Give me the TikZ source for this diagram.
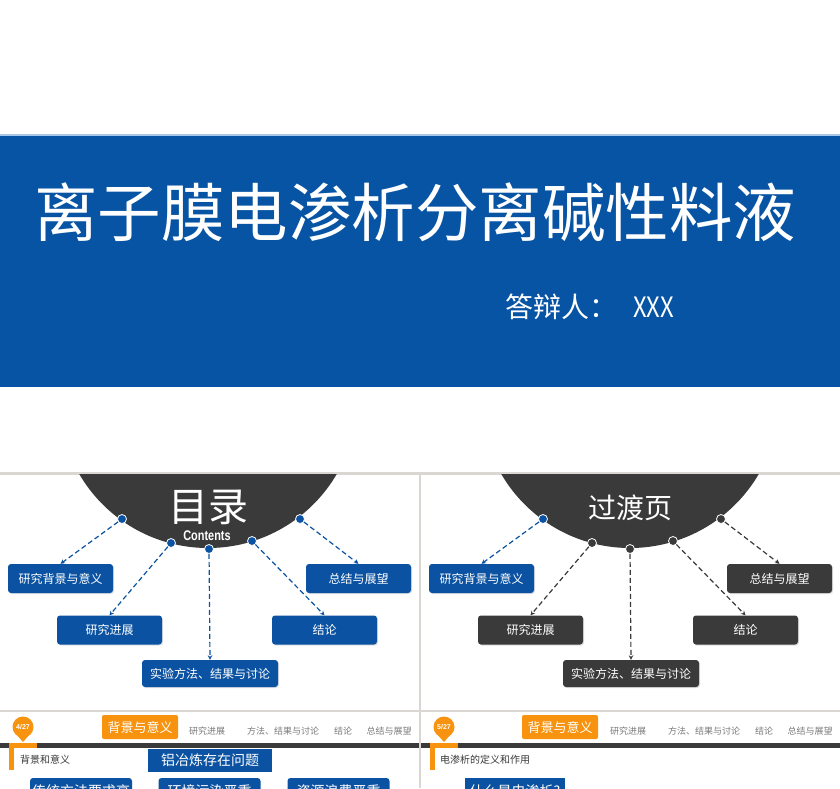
\documentclass[tikz,border=0pt]{standalone}
\usepackage{fontspec}
\setmainfont{Liberation Sans}
\newfontfamily\cjk{Noto Sans CJK SC}
\usetikzlibrary{arrows.meta,shadows}
\definecolor{band}{HTML}{0854A4}
\definecolor{lineblue}{HTML}{A9C8E8}
\definecolor{boxblue}{HTML}{0B53A2}
\definecolor{darkc}{HTML}{3A3A3A}
\definecolor{gridc}{HTML}{DAD7D2}
\definecolor{orangec}{HTML}{F7930F}
\definecolor{navgrey}{HTML}{7A7A7A}
\tikzset{
  fs/.style={font=\cjk\fontsize{#1}{#1}\selectfont},
  itembox/.style={draw=none, fill=#1, rounded corners=3pt, minimum width=105pt, minimum height=29pt,
    inner sep=0pt, text=white, fs=12, drop shadow={shadow xshift=1pt, shadow yshift=-1pt, opacity=0.25}},
  dotnode/.style={circle, fill=#1, draw=white, line width=0.8pt, minimum size=9pt, inner sep=0pt},
  conn/.style={draw=#1, line width=1.2pt, dash pattern=on 5pt off 3pt, -{Stealth[length=4.5pt,width=4.5pt]}},
  navtext/.style={fs=9, text=navgrey, inner sep=0pt},
  bluetag/.style={fill=boxblue, text=white, fs=14, inner sep=0pt, minimum height=23pt},
}
\begin{document}
\begin{tikzpicture}[x=1pt,y=-1pt]
\useasboundingbox (0,0) rectangle (840,788);
\fill[white] (0,0) rectangle (840,788);
% ---------- title slide ----------
\fill[lineblue] (0,133.5) rectangle (840,136);
\fill[band] (0,136) rectangle (840,387);
\node[fs=63.5, text=white, inner sep=0pt] (title) at (415,212) {离子膜电渗析分离碱性料液};
\node[fs=28, text=white, inner sep=0pt, anchor=west] (resp) at (505,307) {答辩人：\hspace{16pt}\scalebox{0.85}[1]{XXX}};
% ---------- grid ----------
\fill[gridc] (0,472) rectangle (840,474.5);
\fill[gridc] (419,474) rectangle (421,788);
\fill[gridc] (0,709.5) rectangle (840,711.5);
% ---------- contents slide (left) ----------
\begin{scope}
\clip (0,474.5) rectangle (419,709.5);
\fill[darkc] (208,399) circle (149pt);
\end{scope}
\node[fs=40, text=white, inner sep=0pt] (mulu) at (208,507) {目录};
\node[font=\bfseries\fontsize{14}{14}\selectfont, text=white, inner sep=0pt, xscale=0.78] (cont) at (207,536) {Contents};
\node[dotnode=boxblue] (ld1) at (122,519) {};
\node[dotnode=boxblue] (ld2) at (171,543) {};
\node[dotnode=boxblue] (ld3) at (209,549) {};
\node[dotnode=boxblue] (ld4) at (252,541) {};
\node[dotnode=boxblue] (ld5) at (300,519) {};
\node[itembox=boxblue] (lb1) at (60.5,578.5) {研究背景与意义};
\node[itembox=boxblue] (lb2) at (109.5,630) {研究进展};
\node[itembox=boxblue, minimum width=136pt, minimum height=27pt] (lb3) at (210,673.5) {实验方法、结果与讨论};
\node[itembox=boxblue] (lb4) at (324.5,630) {结论};
\node[itembox=boxblue] (lb5) at (358.5,578.5) {总结与展望};
\draw[conn=boxblue] (ld1) -- (lb1.north);
\draw[conn=boxblue] (ld2) -- (lb2.north);
\draw[conn=boxblue] (ld3) -- (lb3.north);
\draw[conn=boxblue] (ld4) -- (lb4.north);
\draw[conn=boxblue] (ld5) -- (lb5.north);
% ---------- transition slide (right) ----------
\begin{scope}
\clip (421,474.5) rectangle (840,709.5);
\fill[darkc] (630,399) circle (149pt);
\end{scope}
\node[fs=28, text=white, inner sep=0pt] (guodu) at (630,508) {过渡页};
\node[dotnode=boxblue] (rd1) at (543,519) {};
\node[dotnode=darkc] (rd2) at (592,543) {};
\node[dotnode=darkc] (rd3) at (630,549) {};
\node[dotnode=darkc] (rd4) at (673,541) {};
\node[dotnode=darkc] (rd5) at (721,519) {};
\node[itembox=boxblue] (rb1) at (481.5,578.5) {研究背景与意义};
\node[itembox=darkc] (rb2) at (530.5,630) {研究进展};
\node[itembox=darkc, minimum width=136pt, minimum height=27pt] (rb3) at (631,673.5) {实验方法、结果与讨论};
\node[itembox=darkc] (rb4) at (745.5,630) {结论};
\node[itembox=darkc] (rb5) at (779.5,578.5) {总结与展望};
\draw[conn=boxblue] (rd1) -- (rb1.north);
\draw[conn=darkc] (rd2) -- (rb2.north);
\draw[conn=darkc] (rd3) -- (rb3.north);
\draw[conn=darkc] (rd4) -- (rb4.north);
\draw[conn=darkc] (rd5) -- (rb5.north);
% ---------- slide 4/27 (bottom left) ----------
\begin{scope}
\clip (0,711.5) rectangle (419,788);
\node[fill=orangec, rounded corners=2pt, minimum width=76pt, minimum height=24pt, inner sep=0pt, text=white, fs=13] (ltab) at (140,727) {背景与意义};
\node[navtext] (ln1) at (207,731) {研究进展};
\node[navtext] (ln2) at (283,731) {方法、结果与讨论};
\node[navtext] (ln3) at (343,731) {结论};
\node[navtext] (ln4) at (389,731) {总结与展望};
\fill[darkc] (0,742.5) rectangle (419,747.5);
\fill[orangec] (9,742.5) rectangle (37,748);
\fill[orangec] (9,742.5) rectangle (14,770);
\fill[orangec] (23,727) circle (10.5pt);
\fill[orangec] (16,734) -- (30,734) -- (23,742) -- cycle;
\node[font=\bfseries\fontsize{7}{7}\selectfont, text=white, inner sep=0pt] (lpg) at (23,727) {4/27};
\node[fs=10, text=darkc, inner sep=0pt, anchor=west] (lsub) at (20,760) {背景和意义};
\node[bluetag, minimum width=124pt] (lq) at (210,760.5) {铝冶炼存在问题};
\node[bluetag, minimum width=102pt, rounded corners=3pt, minimum height=26pt] (lc1) at (81,791) {传统方法要求高};
\node[bluetag, minimum width=102pt, rounded corners=3pt, minimum height=26pt] (lc2) at (209.5,791) {环境污染严重};
\node[bluetag, minimum width=102pt, rounded corners=3pt, minimum height=26pt] (lc3) at (338.5,791) {资源浪费严重};
\end{scope}
% ---------- slide 5/27 (bottom right) ----------
\begin{scope}
\clip (421,711.5) rectangle (840,788);
\node[fill=orangec, rounded corners=2pt, minimum width=76pt, minimum height=24pt, inner sep=0pt, text=white, fs=13] (rtab) at (560,727) {背景与意义};
\node[navtext] (rn1) at (628,731) {研究进展};
\node[navtext] (rn2) at (704,731) {方法、结果与讨论};
\node[navtext] (rn3) at (764,731) {结论};
\node[navtext] (rn4) at (810,731) {总结与展望};
\fill[darkc] (421,742.5) rectangle (840,747.5);
\fill[orangec] (430,742.5) rectangle (458,748);
\fill[orangec] (430,742.5) rectangle (435,770);
\fill[orangec] (444,727) circle (10.5pt);
\fill[orangec] (437,734) -- (451,734) -- (444,742) -- cycle;
\node[font=\bfseries\fontsize{7}{7}\selectfont, text=white, inner sep=0pt] (rpg) at (444,727) {5/27};
\node[fs=10, text=darkc, inner sep=0pt, anchor=west] (rsub) at (440,760) {电渗析的定义和作用};
\node[bluetag, minimum width=100pt, minimum height=26pt] (rq) at (515,791) {什么是电渗析?};
\end{scope}
\end{tikzpicture}
\end{document}
